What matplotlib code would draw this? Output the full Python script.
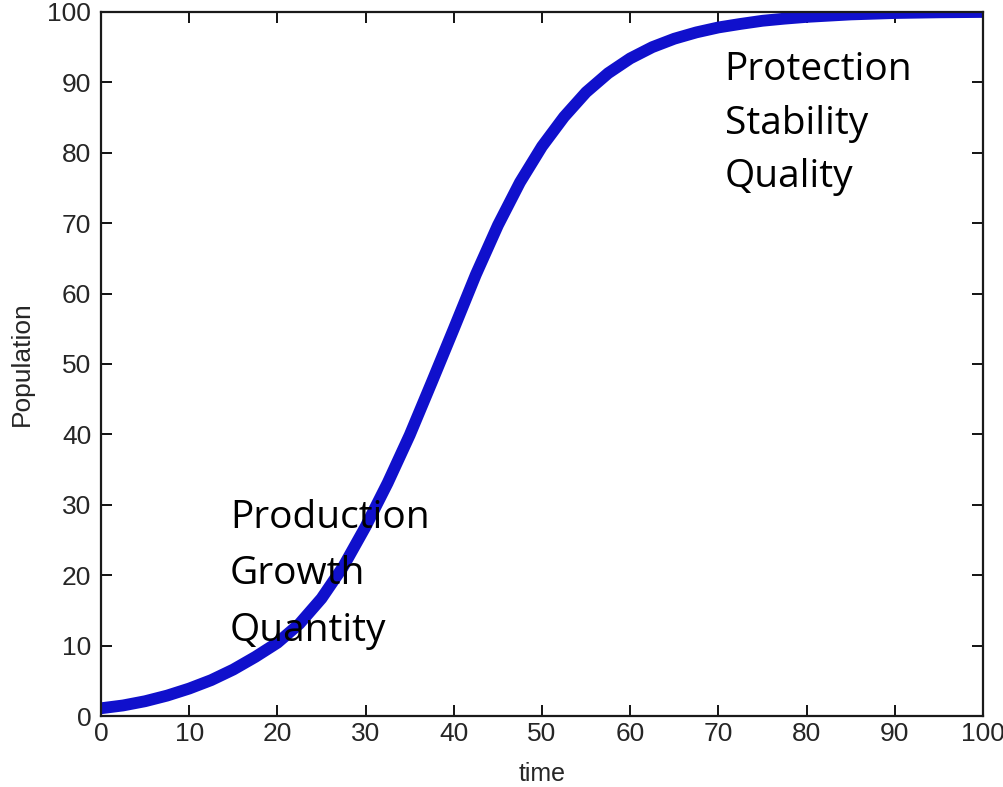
import matplotlib.pyplot as plt

# readings
time = [0, 2.5, 5, 7.5, 10, 12.5, 15, 17.5, 20, 22.5, 25, 27.5, 30, 32.5,
        35, 37.5, 40, 42.5, 45, 47.5, 50, 52.5, 55, 57.5, 60, 62.5, 65,
        67.5, 70, 72.5, 75, 77.5, 80, 85, 90, 95, 100]
population = [1.1, 1.5, 2.1, 2.9, 3.9, 5.1, 6.6, 8.4, 10.4, 13.1, 16.7,
              21.3, 26.9, 33.1, 39.9, 47.4, 55.0, 62.7, 69.7, 75.8, 80.9,
              85.1, 88.6, 91.3, 93.4, 95.0, 96.2, 97.1, 97.8, 98.3, 98.75,
              99.05, 99.3, 99.65, 99.85, 99.95, 100]

xticks = list(range(0, 101, 10))
yticks = list(range(0, 101, 10))

early_words = ['Production', 'Growth', 'Quantity']
late_words = ['Protection', 'Stability', 'Quality']

tick_font = ['Liberation Sans Narrow', 'Liberation Sans', 'DejaVu Sans']
note_font = ['Open Sans', 'Lato', 'DejaVu Sans']

fig = plt.figure(figsize=(10.04, 7.87), dpi=100)
ax = fig.add_axes([0.1006, 0.0902, 0.8785, 0.8946])

ax.plot(time, population, color='#1010cc', linewidth=8.5,
        solid_joinstyle='round', solid_capstyle='butt')

ax.set_xlim(0, 100)
ax.set_ylim(0, 100)
ax.set_xticks(xticks)
ax.set_yticks(yticks)
ax.tick_params(direction='in', length=8, width=1.3, top=True, right=True,
               labelsize=19, labelcolor='#262626')
ax.tick_params(axis='y', pad=7)
ax.tick_params(axis='x', pad=4)
for lab in ax.get_xticklabels() + ax.get_yticklabels():
    lab.set_family(tick_font)
for sp in ax.spines.values():
    sp.set_linewidth(1.6)
    sp.set_color('#1a1a1a')

ax.set_xlabel('time', fontsize=18, family=tick_font, color='#262626',
              labelpad=12)
ax.set_ylabel('Population', fontsize=19, family=tick_font, color='#262626',
              labelpad=10)

# annotation words, one line each
for i, w in enumerate(early_words):
    ax.text(14.6, 26.7 - 8.0 * i, w, fontsize=28, family=note_font,
            color='black', va='baseline', ha='left')
for i, w in enumerate(late_words):
    ax.text(70.7, 90.3 - 7.6 * i, w, fontsize=28, family=note_font,
            color='black', va='baseline', ha='left')

fig.savefig('out.png', dpi=100, facecolor='white')
